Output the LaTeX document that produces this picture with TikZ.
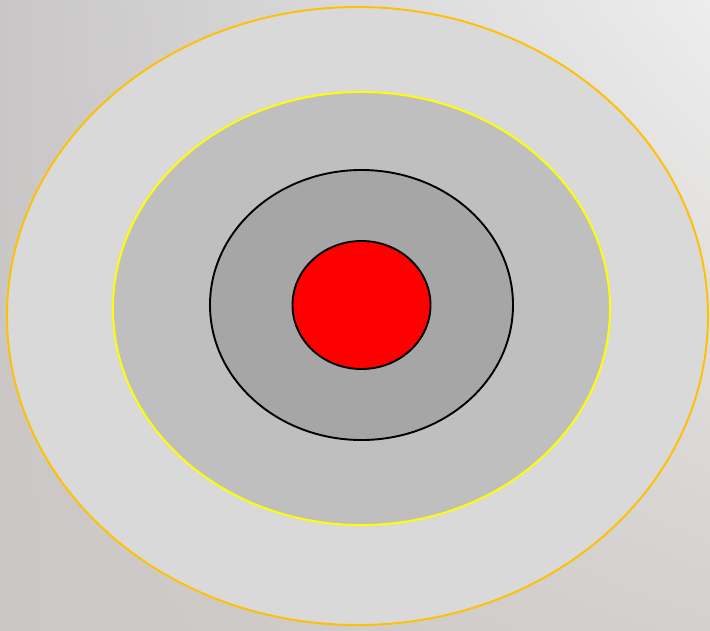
\documentclass[tikz,border=0pt]{standalone}
\usetikzlibrary{shapes.geometric,shadings}
\definecolor{bgUL}{HTML}{C8C6C7}
\definecolor{bgUR}{HTML}{EDEDED}
\definecolor{bgLL}{HTML}{CBC7C4}
\definecolor{bgLR}{HTML}{D3D0CD}
\definecolor{ringA}{HTML}{D9D9D9}
\definecolor{ringB}{HTML}{BFBFBF}
\definecolor{ringC}{HTML}{A6A6A6}
\definecolor{edgeA}{HTML}{FFC000}
\definecolor{edgeB}{HTML}{FFFF00}
\tikzset{
  ring/.style={ellipse, inner sep=0pt, outer sep=0pt, line width=1.9pt},
}
\begin{document}
\begin{tikzpicture}[x=1pt,y=-1pt]
\useasboundingbox (0,0) rectangle (710,630);
\shade[upper left=bgUL, upper right=bgUR, lower left=bgLL, lower right=bgLR] (0,0) rectangle (710,630);
\node[ring, draw=edgeA, fill=ringA, minimum width=701pt, minimum height=618pt] (outer) at (357.5,316) {};
\node[ring, draw=edgeB, fill=ringB, minimum width=497pt, minimum height=433pt] (middle) at (361.5,308.5) {};
\node[ring, draw=black, fill=ringC, minimum width=303pt, minimum height=270pt] (inner) at (361.5,305) {};
\node[ring, draw=black, fill=red, minimum width=138pt, minimum height=128pt] (core) at (361.5,305) {};
\end{tikzpicture}
\end{document}
